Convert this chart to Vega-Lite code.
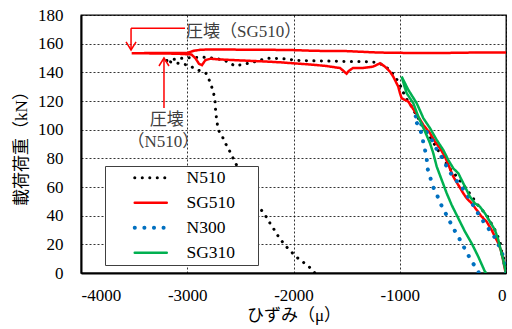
{
  "$schema": "https://vega.github.io/schema/vega-lite/v6.json",
  "width": 425,
  "height": 258,
  "autosize": {"type": "none"},
  "padding": {"left": 81, "top": 15, "right": 6, "bottom": 56},
  "background": "white",
  "config": {
    "font": "Liberation Serif, Noto Sans CJK JP",
    "view": {"stroke": "black", "strokeWidth": 1.3},
    "axis": {
      "labelFont": "Liberation Serif",
      "labelFontSize": 17,
      "labelColor": "#000000",
      "titleFont": "Liberation Serif, Noto Sans CJK JP",
      "titleFontSize": 17,
      "titleFontWeight": "normal",
      "titleColor": "#000000",
      "grid": true,
      "gridColor": "black",
      "gridDash": [2, 2],
      "gridWidth": 0.8,
      "ticks": false,
      "domainColor": "black",
      "domainWidth": 2,
      "labelExpr": "datum.value + ''"
    }
  },
  "datasets": {
    "curves": [
      {"s":"N510","i":0,"x":0,"y":0},{"s":"N510","i":1,"x":-9,"y":6.8},{"s":"N510","i":2,"x":-41,"y":15},{"s":"N510","i":3,"x":-56,"y":22},{"s":"N510","i":4,"x":-104,"y":30},{"s":"N510","i":5,"x":-182,"y":40.5},{"s":"N510","i":6,"x":-250,"y":46},{"s":"N510","i":7,"x":-308,"y":52},{"s":"N510","i":8,"x":-386,"y":60},{"s":"N510","i":9,"x":-460,"y":67},{"s":"N510","i":10,"x":-543,"y":74},{"s":"N510","i":11,"x":-590,"y":80},{"s":"N510","i":12,"x":-652,"y":87},{"s":"N510","i":13,"x":-715,"y":95},{"s":"N510","i":14,"x":-793,"y":104},{"s":"N510","i":15,"x":-850,"y":111},{"s":"N510","i":16,"x":-903,"y":118},{"s":"N510","i":17,"x":-951,"y":123},{"s":"N510","i":18,"x":-982,"y":129},{"s":"N510","i":19,"x":-1014,"y":133.5},{"s":"N510","i":20,"x":-1045,"y":137},{"s":"N510","i":21,"x":-1092,"y":141.6},{"s":"N510","i":22,"x":-1155,"y":145},{"s":"N510","i":23,"x":-1217,"y":147},{"s":"N510","i":24,"x":-1350,"y":147.5},{"s":"N510","i":25,"x":-1500,"y":147.5},{"s":"N510","i":26,"x":-1650,"y":147.8},{"s":"N510","i":27,"x":-1800,"y":148},{"s":"N510","i":28,"x":-1950,"y":148.3},{"s":"N510","i":29,"x":-2100,"y":149.5},{"s":"N510","i":30,"x":-2250,"y":149.8},{"s":"N510","i":31,"x":-2409,"y":146.5},{"s":"N510","i":32,"x":-2551,"y":144.5},{"s":"N510","i":33,"x":-2650,"y":148.5},{"s":"N510","i":34,"x":-2758,"y":150},{"s":"N510","i":35,"x":-2850,"y":150.5},{"s":"N510","i":36,"x":-2950,"y":150.3},{"s":"N510","i":37,"x":-3052,"y":149.8},{"s":"N510","i":38,"x":-3134,"y":149},{"s":"N510","i":39,"x":-3209,"y":148},{"s":"N510","i":40,"x":-2990,"y":145},{"s":"N510","i":41,"x":-2911,"y":142},{"s":"N510","i":42,"x":-2824,"y":139.3},{"s":"N510","i":43,"x":-2786,"y":133.5},{"s":"N510","i":44,"x":-2755,"y":126.5},{"s":"N510","i":45,"x":-2739,"y":120.7},{"s":"N510","i":46,"x":-2735,"y":114.9},{"s":"N510","i":47,"x":-2723,"y":106.7},{"s":"N510","i":48,"x":-2708,"y":99.8},{"s":"N510","i":49,"x":-2676,"y":96.3},{"s":"N510","i":50,"x":-2645,"y":91},{"s":"N510","i":51,"x":-2614,"y":87},{"s":"N510","i":52,"x":-2582,"y":82.3},{"s":"N510","i":53,"x":-2551,"y":77.2},{"s":"N510","i":54,"x":-2500,"y":71},{"s":"N510","i":55,"x":-2440,"y":62},{"s":"N510","i":56,"x":-2380,"y":53},{"s":"N510","i":57,"x":-2315,"y":45.1},{"s":"N510","i":58,"x":-2268,"y":40.5},{"s":"N510","i":59,"x":-2237,"y":36.5},{"s":"N510","i":60,"x":-2196,"y":32},{"s":"N510","i":61,"x":-2158,"y":27.2},{"s":"N510","i":62,"x":-2118,"y":23},{"s":"N510","i":63,"x":-2073,"y":18.8},{"s":"N510","i":64,"x":-2024,"y":15},{"s":"N510","i":65,"x":-1970,"y":11},{"s":"N510","i":66,"x":-1917,"y":8},{"s":"N510","i":67,"x":-1866,"y":5.1},{"s":"N510","i":68,"x":-1819,"y":2},{"s":"N510","i":69,"x":-1800,"y":0},
      {"s":"SG510","i":0,"x":0,"y":0},{"s":"SG510","i":1,"x":-9,"y":2.1},{"s":"SG510","i":2,"x":-31,"y":10.2},{"s":"SG510","i":3,"x":-49,"y":16},{"s":"SG510","i":4,"x":-72,"y":20.7},{"s":"SG510","i":5,"x":-104,"y":25.3},{"s":"SG510","i":6,"x":-135,"y":30},{"s":"SG510","i":7,"x":-182,"y":35.8},{"s":"SG510","i":8,"x":-229,"y":39.3},{"s":"SG510","i":9,"x":-276,"y":44},{"s":"SG510","i":10,"x":-323,"y":48.6},{"s":"SG510","i":11,"x":-370,"y":52.1},{"s":"SG510","i":12,"x":-402,"y":55.6},{"s":"SG510","i":13,"x":-449,"y":61.4},{"s":"SG510","i":14,"x":-496,"y":67.2},{"s":"SG510","i":15,"x":-535,"y":74.2},{"s":"SG510","i":16,"x":-574,"y":81.1},{"s":"SG510","i":17,"x":-621,"y":87},{"s":"SG510","i":18,"x":-668,"y":91.6},{"s":"SG510","i":19,"x":-715,"y":97.5},{"s":"SG510","i":20,"x":-778,"y":103.3},{"s":"SG510","i":21,"x":-825,"y":109},{"s":"SG510","i":22,"x":-856,"y":112.5},{"s":"SG510","i":23,"x":-888,"y":116},{"s":"SG510","i":24,"x":-919,"y":119.5},{"s":"SG510","i":25,"x":-951,"y":120.7},{"s":"SG510","i":26,"x":-982,"y":121.9},{"s":"SG510","i":27,"x":-998,"y":125.4},{"s":"SG510","i":28,"x":-1014,"y":130},{"s":"SG510","i":29,"x":-1061,"y":137},{"s":"SG510","i":30,"x":-1092,"y":140.5},{"s":"SG510","i":31,"x":-1139,"y":144},{"s":"SG510","i":32,"x":-1186,"y":146.3},{"s":"SG510","i":33,"x":-1250,"y":144},{"s":"SG510","i":34,"x":-1350,"y":143},{"s":"SG510","i":35,"x":-1440,"y":143},{"s":"SG510","i":36,"x":-1480,"y":141},{"s":"SG510","i":37,"x":-1500,"y":139},{"s":"SG510","i":38,"x":-1530,"y":141},{"s":"SG510","i":39,"x":-1562,"y":143},{"s":"SG510","i":40,"x":-1700,"y":144.5},{"s":"SG510","i":41,"x":-1850,"y":145.5},{"s":"SG510","i":42,"x":-2002,"y":146.3},{"s":"SG510","i":43,"x":-2127,"y":147},{"s":"SG510","i":44,"x":-2250,"y":147.5},{"s":"SG510","i":45,"x":-2409,"y":148},{"s":"SG510","i":46,"x":-2550,"y":148.5},{"s":"SG510","i":47,"x":-2700,"y":149},{"s":"SG510","i":48,"x":-2780,"y":149.5},{"s":"SG510","i":49,"x":-2830,"y":148.5},{"s":"SG510","i":50,"x":-2861,"y":145},{"s":"SG510","i":51,"x":-2890,"y":146},{"s":"SG510","i":52,"x":-2920,"y":149.5},{"s":"SG510","i":53,"x":-2960,"y":152.5},{"s":"SG510","i":54,"x":-3100,"y":153},{"s":"SG510","i":55,"x":-3300,"y":153.2},{"s":"SG510","i":56,"x":-3523,"y":153.3},{"s":"SG510","i":57,"x":-3300,"y":153.5},{"s":"SG510","i":58,"x":-3000,"y":153.5},{"s":"SG510","i":59,"x":-2940,"y":155},{"s":"SG510","i":60,"x":-2870,"y":155.8},{"s":"SG510","i":61,"x":-2700,"y":156},{"s":"SG510","i":62,"x":-2500,"y":155.8},{"s":"SG510","i":63,"x":-2300,"y":155.8},{"s":"SG510","i":64,"x":-2000,"y":155.5},{"s":"SG510","i":65,"x":-1800,"y":155},{"s":"SG510","i":66,"x":-1500,"y":154.8},{"s":"SG510","i":67,"x":-1200,"y":153.8},{"s":"SG510","i":68,"x":-900,"y":153.5},{"s":"SG510","i":69,"x":-600,"y":153.5},{"s":"SG510","i":70,"x":-300,"y":153.8},{"s":"SG510","i":71,"x":0,"y":153.8},
      {"s":"N300","i":0,"x":0,"y":0},{"s":"N300","i":1,"x":-25,"y":11.4},{"s":"N300","i":2,"x":-88,"y":23},{"s":"N300","i":3,"x":-167,"y":31.2},{"s":"N300","i":4,"x":-245,"y":39.3},{"s":"N300","i":5,"x":-339,"y":51},{"s":"N300","i":6,"x":-417,"y":60.2},{"s":"N300","i":7,"x":-496,"y":67},{"s":"N300","i":8,"x":-543,"y":72},{"s":"N300","i":9,"x":-590,"y":79},{"s":"N300","i":10,"x":-650,"y":86},{"s":"N300","i":11,"x":-700,"y":93},{"s":"N300","i":12,"x":-760,"y":100},{"s":"N300","i":13,"x":-810,"y":105},{"s":"N300","i":14,"x":-856,"y":110},{"s":"N300","i":15,"x":-850,"y":106},{"s":"N300","i":16,"x":-825,"y":103},{"s":"N300","i":17,"x":-793,"y":97},{"s":"N300","i":18,"x":-778,"y":91},{"s":"N300","i":19,"x":-762,"y":85.8},{"s":"N300","i":20,"x":-746,"y":79.8},{"s":"N300","i":21,"x":-740,"y":73.3},{"s":"N300","i":22,"x":-715,"y":67.2},{"s":"N300","i":23,"x":-690,"y":60.7},{"s":"N300","i":24,"x":-652,"y":55},{"s":"N300","i":25,"x":-621,"y":49},{"s":"N300","i":26,"x":-580,"y":43.3},{"s":"N300","i":27,"x":-536,"y":37},{"s":"N300","i":28,"x":-496,"y":31.2},{"s":"N300","i":29,"x":-449,"y":25.3},{"s":"N300","i":30,"x":-407,"y":19.5},{"s":"N300","i":31,"x":-364,"y":13.7},{"s":"N300","i":32,"x":-323,"y":7.9},{"s":"N300","i":33,"x":-276,"y":3.3},{"s":"N300","i":34,"x":-255,"y":0},
      {"s":"SG310","i":0,"x":0,"y":0},{"s":"SG310","i":1,"x":-25,"y":9},{"s":"SG310","i":2,"x":-49,"y":16},{"s":"SG310","i":3,"x":-72,"y":23},{"s":"SG310","i":4,"x":-104,"y":30},{"s":"SG310","i":5,"x":-151,"y":35.8},{"s":"SG310","i":6,"x":-198,"y":41.6},{"s":"SG310","i":7,"x":-245,"y":46.2},{"s":"SG310","i":8,"x":-292,"y":48.6},{"s":"SG310","i":9,"x":-339,"y":53.2},{"s":"SG310","i":10,"x":-386,"y":60.2},{"s":"SG310","i":11,"x":-449,"y":69.6},{"s":"SG310","i":12,"x":-496,"y":73},{"s":"SG310","i":13,"x":-543,"y":78.8},{"s":"SG310","i":14,"x":-590,"y":85.8},{"s":"SG310","i":15,"x":-652,"y":92.8},{"s":"SG310","i":16,"x":-715,"y":101},{"s":"SG310","i":17,"x":-778,"y":108},{"s":"SG310","i":18,"x":-840,"y":118.4},{"s":"SG310","i":19,"x":-919,"y":127.7},{"s":"SG310","i":20,"x":-982,"y":137},{"s":"SG310","i":21,"x":-955,"y":130},{"s":"SG310","i":22,"x":-935,"y":125.4},{"s":"SG310","i":23,"x":-872,"y":118.4},{"s":"SG310","i":24,"x":-825,"y":109},{"s":"SG310","i":25,"x":-762,"y":98.6},{"s":"SG310","i":26,"x":-715,"y":90.5},{"s":"SG310","i":27,"x":-684,"y":83.5},{"s":"SG310","i":28,"x":-652,"y":74.2},{"s":"SG310","i":29,"x":-605,"y":64.9},{"s":"SG310","i":30,"x":-558,"y":55.6},{"s":"SG310","i":31,"x":-511,"y":47.4},{"s":"SG310","i":32,"x":-449,"y":38.2},{"s":"SG310","i":33,"x":-386,"y":28.8},{"s":"SG310","i":34,"x":-323,"y":20.7},{"s":"SG310","i":35,"x":-261,"y":11.4},{"s":"SG310","i":36,"x":-198,"y":0.9},{"s":"SG310","i":37,"x":-185,"y":0}
    ],
    "ann": [
      {"x": -2470, "y": 168.1, "t": "圧壊（SG510）"},
      {"x": -3193, "y": 106.4, "t": "圧壊"},
      {"x": -3224, "y": 91.7, "t": "（N510）"}
    ],
    "arrows": [
      {"x": -3529, "x2": -3021, "y": 170.7, "y2": 170.7},
      {"x": -3529, "x2": -3529, "y": 170.7, "y2": 155.8},
      {"x": -3219, "x2": -3219, "y": 115.1, "y2": 150.2}
    ],
    "heads": [
      {"x": -3529, "y": 155.6, "d": "down"},
      {"x": -3219, "y": 150.0, "d": "up"}
    ]
  },
  "encoding": {
    "x": {"field": "x", "type": "quantitative", "scale": {"domain": [-4000, 0], "nice": false},
      "axis": {"values": [-4000, -3000, -2000, -1000, 0], "title": "ひずみ（μ）", "labelPadding": 14, "titlePadding": 4}},
    "y": {"field": "y", "type": "quantitative", "scale": {"domain": [0, 180], "nice": false},
      "axis": {"values": [0, 20, 40, 60, 80, 100, 120, 140, 160, 180], "title": "載荷荷重（kN）", "labelPadding": 18, "titlePadding": 7}}
  },
  "layer": [
    {
      "data": {"name": "curves"},
      "transform": [{"filter": "datum.s === 'N510'"}],
      "mark": {"type": "line", "strokeWidth": 3, "strokeCap": "round", "clip": true},
      "encoding": {
        "order": {"field": "i", "type": "quantitative"},
        "color": {"field": "s", "type": "nominal",
          "scale": {"domain": ["N510", "SG510", "N300", "SG310"], "range": ["#000000", "#FF0000", "#0070C0", "#00B050"]},
          "legend": {
            "title": "MM", "titleOrient": "right", "titleOpacity": 0, "titleFontSize": 8, "titlePadding": 4,
            "orient": "none", "legendX": 24, "legendY": 151,
            "fillColor": "white", "strokeColor": "#404040", "padding": 3,
            "symbolType": "M-3,0H3", "symbolSize": 114, "symbolOffset": 34, "labelOffset": 27,
            "labelFont": "Liberation Serif", "labelFontSize": 17.5, "labelColor": "black",
            "rowPadding": 6,
            "encode": {"symbols": {"update": {"strokeCap": {"value": "round"},
              "strokeWidth": {"signal": "datum.value === 'N300' ? 4 : datum.value === 'N510' ? 3 : 2.5"}}}}
          }},
        "strokeDash": {"field": "s", "type": "nominal",
          "scale": {"domain": ["N510", "SG510", "N300", "SG310"], "range": [[0.1, 7.4], [1, 0], [0.1, 9.5], [1, 0]]}}
      }
    },
    {
      "data": {"name": "curves"},
      "transform": [{"filter": "datum.s === 'SG510'"}],
      "mark": {"type": "line", "strokeWidth": 2.5, "clip": true},
      "encoding": {
        "order": {"field": "i", "type": "quantitative"},
        "color": {"field": "s", "type": "nominal"},
        "strokeDash": {"field": "s", "type": "nominal"}
      }
    },
    {
      "data": {"name": "curves"},
      "transform": [{"filter": "datum.s === 'N300'"}],
      "mark": {"type": "line", "strokeWidth": 4, "strokeCap": "round", "clip": true},
      "encoding": {
        "order": {"field": "i", "type": "quantitative"},
        "color": {"field": "s", "type": "nominal"},
        "strokeDash": {"field": "s", "type": "nominal"}
      }
    },
    {
      "data": {"name": "curves"},
      "transform": [{"filter": "datum.s === 'SG310'"}],
      "mark": {"type": "line", "strokeWidth": 2.5, "clip": true},
      "encoding": {
        "order": {"field": "i", "type": "quantitative"},
        "color": {"field": "s", "type": "nominal"},
        "strokeDash": {"field": "s", "type": "nominal"}
      }
    },
    {
      "data": {"name": "arrows"},
      "mark": {"type": "rule", "color": "#FF0000", "strokeWidth": 1.5},
      "encoding": {
        "x2": {"field": "x2"},
        "y2": {"field": "y2"}
      }
    },
    {
      "data": {"name": "heads"},
      "mark": {"type": "point", "filled": false, "color": "#FF0000", "strokeWidth": 1.5, "size": 100, "opacity": 1},
      "encoding": {
        "shape": {"field": "d", "type": "nominal",
          "scale": {"domain": ["down", "up"], "range": ["M-1,-1.6L0,0L1,-1.6", "M-1,1.6L0,0L1,1.6"]},
          "legend": null}
      }
    },
    {
      "data": {"name": "ann"},
      "mark": {"type": "text", "font": "Liberation Serif, Noto Sans CJK JP", "fontSize": 17, "color": "#404040", "align": "center", "baseline": "middle"},
      "encoding": {"text": {"field": "t"}}
    }
  ]
}
